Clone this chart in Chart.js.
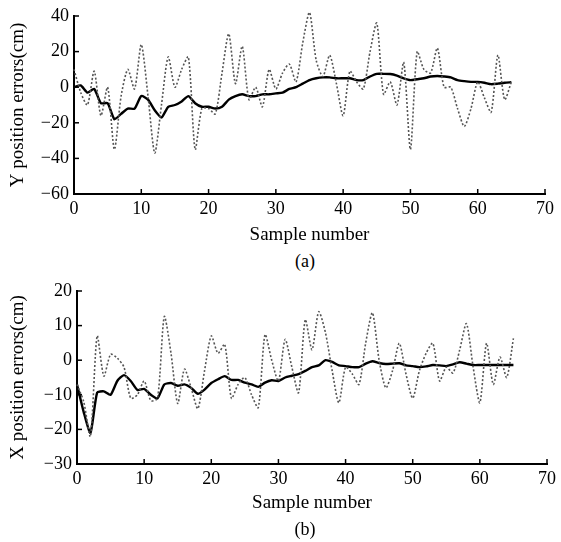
<!DOCTYPE html>
<html>
<head>
<meta charset="utf-8">
<script src="https://cdn.jsdelivr.net/npm/chart.js@4"></script>
<style>
  body { margin: 0; background: #fff; width: 561px; height: 542px; position: relative; overflow: hidden; }
  .box { position: absolute; left: 0; width: 561px; }
  .cap { position: absolute; left: 0; width: 610px; text-align: center; font: 18px "Liberation Serif", serif; color: #000; }
</style>
</head>
<body>
<div class="box" style="top:0;height:250px"><canvas id="chartA" width="561" height="250"></canvas></div>
<div class="cap" style="top:251px">(a)</div>
<div class="box" style="top:270px;height:272px"><canvas id="chartB" width="561" height="272"></canvas></div>
<div class="cap" style="top:519px">(b)</div>
<script>
// sample numbers
const samples = [0, 1, 2, 3, 4, 5, 6, 7, 8, 9, 10, 11, 12, 13, 14, 15, 16, 17, 18, 19, 20,
  21, 22, 23, 24, 25, 26, 27, 28, 29, 30, 31, 32, 33, 34, 35, 36, 37, 38, 39, 40,
  41, 42, 43, 44, 45, 46, 47, 48, 49, 50, 51, 52, 53, 54, 55, 56, 57, 58, 59, 60,
  61, 62, 63, 64, 65];

// (a) Y position errors
const yMeasured = [10, -3, -10, 9, -16, 0, -35, -5, 10, -1, 24, -5, -37, -10, 17, 0, 10, 17, -35, -12,
  -12, -15, 8, 30, 2, 23, -7, 0, -11, 10, -1, 8, 13, 3, 25, 42, 15, 6, 18, 2,
  -16, 9, 3, -1, 20, 36, -4, 3, -10, 14, -35, 20, 10, 8, 22, 0, 0, -12, -22, -12,
  3, -6, -14, 18, -7, 3];
const yFiltered = [0, 1, -3, -1, -9, -9, -18, -15, -12, -12, -5, -7, -13, -17, -11, -10, -8, -5, -9, -11,
  -11, -12, -11, -7, -5, -4, -5, -5, -4, -4, -3.5, -3, -1, 0, 2, 4, 5, 5.5, 5.5, 5,
  5, 5, 4, 4, 6, 7.5, 7.5, 7.4, 6.5, 5, 4, 4.5, 5, 6, 6.3, 6, 5.5, 4, 3.4, 3,
  3, 2.5, 1.7, 2, 2.5, 2.8];

// (b) X position errors
const xMeasured = [-7, -12, -22, 7, -4.6, 1.7, 0.6, -2, -11, -10, -6, -11.7, -11, 12.6, 2, -12.5, -2.6, -8, -14, -3,
  7, 2, 4.6, -11, -7, -5, -10, -13.7, 7.4, 0, -6, 6, -2, -9.4, 11.7, 3, 14, 8, -3, -12.3,
  -2, -4, -7, 5, 13.7, 0, -8, -3, 4.9, -4, -11, -3, 2, 4.9, -6, -2, -3.7, 3, 10.6, -2,
  -12.3, 4.9, -7, 0.9, -5, 6.3];
const xFiltered = [-7, -15, -21, -9.4, -9, -10, -6, -4.3, -6, -8.6, -8.3, -10, -11, -7, -6.6, -7.4, -7, -8, -9.7, -8.5,
  -6.6, -5.5, -4.6, -5.7, -5.7, -6.5, -7, -7.7, -6.5, -5.8, -6, -5, -4.5, -4, -3.1, -2, -1.5, 0, -0.5, -1.5,
  -1.7, -2, -2, -1, -0.3, -0.8, -1.1, -1, -0.9, -1.5, -1.7, -2, -1.8, -1.4, -1.5, -1.7, -1.2, -0.6, -1, -1.4,
  -1.4, -1.4, -1.4, -1.4, -1.4, -1.4];

const serif = '"Liberation Serif", "Times New Roman", serif';

const toPoints = (vals) => vals.map((v, i) => ({ x: samples[i], y: v }));

// short tick marks pointing into the plot
const inwardTicks = {
  id: 'inwardTicks',
  afterDraw(chart) {
    const ctx = chart.ctx;
    const area = chart.chartArea;
    const xs = chart.scales.x, ys = chart.scales.y;
    ctx.save();
    ctx.strokeStyle = '#000';
    ctx.lineWidth = 1.5;
    xs.ticks.forEach(t => {
      const px = xs.getPixelForValue(t.value);
      ctx.beginPath();
      ctx.moveTo(px, area.bottom);
      ctx.lineTo(px, area.bottom - 5);
      ctx.stroke();
    });
    ys.ticks.forEach(t => {
      const py = ys.getPixelForValue(t.value);
      ctx.beginPath();
      ctx.moveTo(area.left, py);
      ctx.lineTo(area.left + 5, py);
      ctx.stroke();
    });
    ctx.restore();
  }
};

function makeChart(id, measured, filtered, yTitle, yMin, yMax, yStep, pad, yWidth, xHeight) {
  return new Chart(document.getElementById(id).getContext('2d'), {
    type: 'line',
    data: {
      datasets: [{
        data: toPoints(measured),
        borderColor: '#555',
        borderWidth: 1.6,
        borderDash: [2, 2],
        pointRadius: 0,
        tension: 0.25,
        clip: false,
        fill: false
      }, {
        data: toPoints(filtered),
        borderColor: '#000',
        borderWidth: 2.4,
        pointRadius: 0,
        tension: 0.2,
        clip: false,
        fill: false
      }]
    },
    options: {
      responsive: false,
      animation: false,
      layout: { padding: pad },
      plugins: { legend: { display: false }, tooltip: { enabled: false } },
      scales: {
        x: {
          type: 'linear',
          min: 0, max: 70,
          afterFit: (s) => { s.height = xHeight; },
          grid: { display: false, drawTicks: false },
          border: { display: true, color: '#000', width: 2 },
          ticks: { stepSize: 10, padding: 4, color: '#000', font: { family: serif, size: 18 } },
          title: { display: true, text: 'Sample number', color: '#000', padding: { top: 0, bottom: 4 },
            font: { family: serif, size: 19 } }
        },
        y: {
          min: yMin, max: yMax,
          afterFit: (s) => { s.width = yWidth; },
          grid: { display: false, drawTicks: false },
          border: { display: true, color: '#000', width: 2 },
          ticks: { stepSize: yStep, padding: 5, color: '#000', font: { family: serif, size: 18 },
            callback: (v) => String(v).replace('-', '\u2212') },
          title: { display: true, text: yTitle, color: '#000', padding: { top: 7, bottom: 0 },
            font: { family: serif, size: 19 } }
        }
      }
    },
    plugins: [inwardTicks]
  });
}

const chartA = makeChart('chartA', yMeasured, yFiltered, 'Y position errors(cm)', -60, 40, 20,
  { top: 16, right: 16, bottom: 0, left: 0 }, 74, 56);
const chartB = makeChart('chartB', xMeasured, xFiltered, 'X position errors(cm)', -30, 20, 10,
  { top: 21, right: 14, bottom: 24, left: 0 }, 77, 54);
</script>
</body>
</html>
